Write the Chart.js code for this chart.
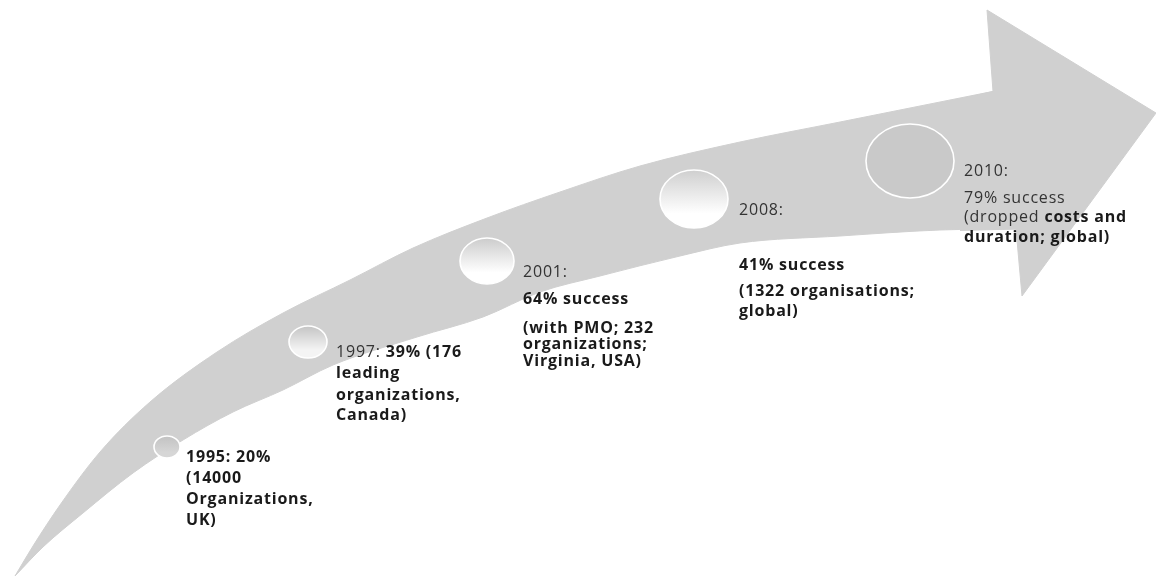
<!DOCTYPE html>
<html>
<head>
<meta charset="utf-8">
<script src="https://cdn.jsdelivr.net/npm/chart.js@4.4.1/dist/chart.umd.min.js"></script>
<style>
html, body { margin: 0; padding: 0; background: #fff; }
#wrap { width: 1156px; height: 578px; }
</style>
</head>
<body>
<div id="wrap"><canvas id="timelineChart" width="1156" height="578"></canvas></div>
<script>
// milestones along the arrow
var years = ['1995', '1997', '2001', '2008', '2010'];
var successRate = [20, 39, 64, 41, 79];
var milestoneX = [167, 308, 487, 694, 910];
var milestoneY = [447, 342, 261, 199, 161];
var bubbleSize = [11, 16, 23, 29, 37];

// text next to each milestone ("*" starts the bold part of a line)
var labelLines = [
  ['*1995: 20%', '*(14000', '*Organizations,', '*UK)'],
  ['1997: *39% (176', '*leading', '*organizations,', '*Canada)'],
  ['2001:', '*64% success', '*(with PMO; 232', '*organizations;', '*Virginia, USA)'],
  ['2008:', '*41% success', '*(1322 organisations;', '*global)'],
  ['2010:', '79% success', '(dropped *costs and', '*duration; global)']
];

// arrow outline
var arrowTopX = [15, 33, 60, 100, 150, 217, 283, 350, 413, 487, 560, 640, 740, 840, 900, 1000];
var arrowTopY = [576, 546, 505, 452, 402, 352, 313, 280, 248, 218, 192, 166, 142, 122, 110, 90];
var arrowBottomX = [15, 43, 83, 133, 183, 233, 283, 333, 417, 483, 540, 600, 680, 740, 840, 940, 1017];
var arrowBottomY = [576, 547, 513, 473, 440, 412, 390, 365, 337, 317, 292, 276, 256, 243, 236, 230, 229];
var arrowHeadX = [960, 993, 987, 1156, 1022, 1016, 960];
var arrowHeadY = [99, 91.5, 10, 113, 296, 229, 230.5];

// layout of the labels, relative to each circle
var labelDx = [19, 28, 36, 45, 54];
var labelDy = [
  [10, 31, 52, 73],
  [10, 31, 53, 73],
  [11, 38, 67, 83, 100],
  [11, 66, 92, 112],
  [10, 37, 56, 76]
];
var discTop = ['#c2c2c2', '#c4c4c4', '#cccccc', '#cfcfcf', '#c9c9c9'];
var discBottom = ['#d6d6d6', '#f4f4f4', '#ffffff', '#ffffff', '#c9c9c9'];

var arrowGray = '#d0d0d0';

function toPoints(xs, ys) {
  var pts = [];
  for (var i = 0; i < xs.length; i++) pts.push({x: xs[i], y: ys[i]});
  return pts;
}

function makeDisc(i) {
  var ry = bubbleSize[i];
  var rx = Math.round(ry * 1.18);
  var c = document.createElement('canvas');
  c.width = rx * 2 + 4;
  c.height = ry * 2 + 4;
  var g = c.getContext('2d');
  var grad = g.createLinearGradient(0, 2, 0, c.height - 2);
  grad.addColorStop(0, discTop[i]);
  grad.addColorStop(0.75, discBottom[i]);
  grad.addColorStop(1, discBottom[i]);
  g.beginPath();
  g.ellipse(c.width / 2, c.height / 2, rx, ry, 0, 0, Math.PI * 2);
  g.fillStyle = grad;
  g.fill();
  g.lineWidth = 1.6;
  g.strokeStyle = '#ffffff';
  g.stroke();
  return c;
}

var discs = years.map(function (y, i) { return makeDisc(i); });

var bubbleData = years.map(function (y, i) {
  return {x: milestoneX[i], y: milestoneY[i], r: bubbleSize[i], year: y, rate: successRate[i]};
});

var labelPlugin = {
  id: 'milestoneLabels',
  afterDatasetsDraw: function (chart) {
    var ctx = chart.ctx;
    var meta = chart.getDatasetMeta(3);
    ctx.save();
    ctx.textBaseline = 'middle';
    ctx.textAlign = 'left';
    ctx.letterSpacing = '0.8px';
    meta.data.forEach(function (pt, i) {
      labelLines[i].forEach(function (line, j) {
        var parts = line.split('*');
        var x = pt.x + labelDx[i];
        var y = pt.y + labelDy[i][j];
        parts.forEach(function (txt, k) {
          if (!txt) return;
          var bold = k > 0;
          ctx.font = (bold ? '700 ' : '400 ') + '16px "Open Sans"';
          ctx.fillStyle = bold ? '#1a1a1a' : '#333333';
          ctx.fillText(txt, x, y);
          x += ctx.measureText(txt).width;
        });
      });
    });
    ctx.restore();
  }
};

var ctx = document.getElementById('timelineChart').getContext('2d');

var myChart = new Chart(ctx, {
  type: 'scatter',
  data: {
    datasets: [{
      type: 'line',
      label: 'arrow top',
      data: toPoints(arrowTopX, arrowTopY),
      fill: '+1',
      backgroundColor: arrowGray,
      borderColor: arrowGray,
      borderWidth: 1,
      pointRadius: 0,
      cubicInterpolationMode: 'monotone',
      clip: false,
      order: 3
    }, {
      type: 'line',
      label: 'arrow bottom',
      data: toPoints(arrowBottomX, arrowBottomY),
      fill: false,
      borderColor: arrowGray,
      borderWidth: 1,
      pointRadius: 0,
      cubicInterpolationMode: 'monotone',
      clip: false,
      order: 3
    }, {
      type: 'line',
      label: 'arrow head',
      data: toPoints(arrowHeadX, arrowHeadY),
      fill: 'shape',
      backgroundColor: arrowGray,
      borderColor: arrowGray,
      borderWidth: 1,
      pointRadius: 0,
      tension: 0,
      clip: false,
      order: 2
    }, {
      type: 'bubble',
      label: 'milestones',
      data: bubbleData,
      pointStyle: discs,
      clip: false,
      order: 1
    }]
  },
  options: {
    responsive: false,
    animation: false,
    events: [],
    layout: { padding: 0, autoPadding: false },
    scales: {
      x: { type: 'linear', min: 0, max: 1156, display: false },
      y: { type: 'linear', min: 0, max: 578, reverse: true, display: false }
    },
    plugins: {
      legend: { display: false },
      tooltip: { enabled: false }
    }
  },
  plugins: [labelPlugin]
});
</script>
</body>
</html>
